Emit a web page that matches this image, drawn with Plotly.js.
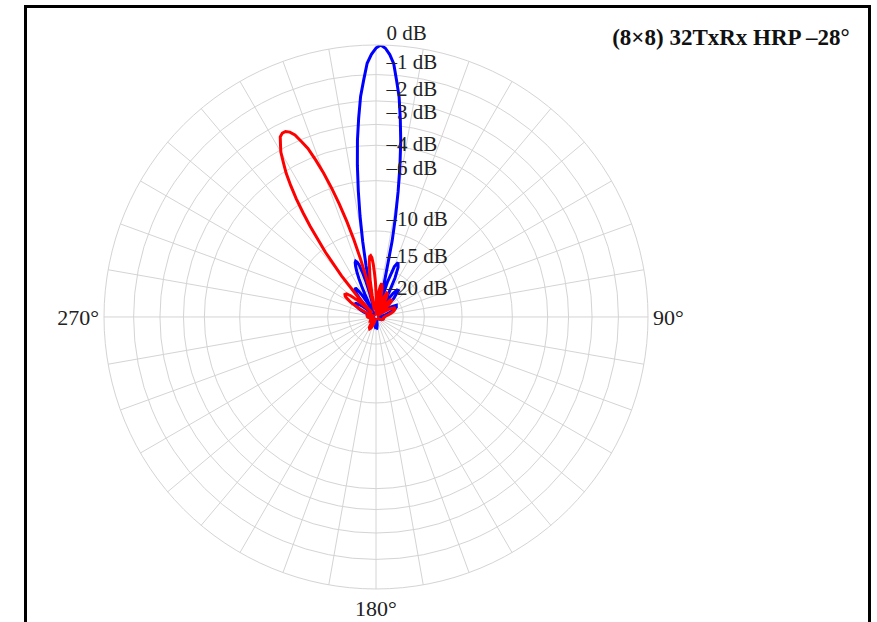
<!DOCTYPE html>
<html>
<head>
<meta charset="utf-8">
<script src="https://cdn.plot.ly/plotly-3.0.1.min.js"></script>
<style>html,body{margin:0;padding:0;background:#fff;}#chart{width:877px;height:622px;}</style>
</head>
<body>
<div id="chart"></div>
<script>
// Angle of each sample (degrees, 0 = up, clockwise)
var thetaDeg = [-180,-176,-172,-168,-164,-160,-156,-152,-148,-144,-140,-136,-132,-128,-124,-120,-116,-112,-108,-104,-100,-96,-92,-88,-84,-80,-76,-72,-68,-64,
  -60,-58,-56,-54,-52,-50,-48,-46,-44,-42,-40,-38,-36,
  -35,-34,-33,-32,-31,-30,-29,-28,-27,-26,-25,-24,-23,-22,-21,-20,-19,-18,-17,-16,-15,-14,-13,-12,-11,-10,-9,-8,-7,-6,-5,-4,-3,-2,-1,
  0,1,2,3,4,5,6,7,8,9,10,11,12,14,16,18,20,22,24,26,28,30,32,34,36,38,40,
  44,48,52,56,60,64,68,72,76,80,84,88,92,96,100,104,108,112,116,120,124,128,132,136,140,144,148,152,156,160,164,168,172,176,180];

// Blue pattern (beam at 0°), dB
var blueDb = [-27.1,-28.6,-33.1,-42,-40,-38,-40,-44,-40,-39,-39,-44,-45,-40,-36,-34.0,-34.1,-36,-39,-44,-45,-43,-40,-39,-42,-45,-44,-31.2,-26.1,-22.9,
  -21.0,-20.8,-21.0,-21.9,-23.9,-27.4,-45,-40,-25.7,-21.4,-19.1,-17.9,-17.8,
  -17.9,-18.8,-19.9,-21.6,-24.5,-29.4,-45,-31.2,-24.4,-20.6,-18.1,-16.2,-14.9,-14.0,-13.4,-13.2,-13.4,-13.9,-15.2,-17.2,-20.7,-29.6,-29.8,-19.3,-14.3,-11.0,-8.5,-6.6,-5.0,-3.7,-2.7,-1.8,-1.2,-0.6,-0.3,
  -0.1,0.0,-0.1,-0.3,-0.6,-1.2,-1.8,-2.7,-3.7,-5.0,-6.6,-8.5,-10.9,-19.0,-30.7,-17.5,-14.1,-13.3,-14.0,-16.0,-20.0,-28.8,-32.6,-22.8,-19.4,-18.0,-17.9,
  -20.6,-29.7,-31.7,-23.5,-21.3,-21.6,-23.1,-25.4,-28.6,-32.2,-38,-40,-40,-43,-38,-34.4,-33.1,-32.4,-32.8,-34.3,-38,-42,-45,-40,-38,-39,-44,-40,-38,-39,-45,-37,-30.3,-27.4,-27.1];

// Red pattern (beam steered to –28°), dB
var redDb = [-45,-42,-43,-45,-36,-30.1,-27.1,-26.1,-26.7,-29.0,-34.2,-45,-38,-33.3,-32.0,-32.7,-36,-42,-45,-42,-36,-32.6,-30.8,-29.9,-29.7,-31.2,-34.8,-45,-31.3,-24.0,
  -19.6,-18.3,-17.3,-17.0,-17.2,-18.3,-20.8,-27.1,-34.5,-19.9,-14.1,-10.4,-7.7,
  -6.6,-5.6,-4.8,-4.1,-3.6,-3.1,-2.8,-2.5,-2.4,-2.4,-2.5,-2.7,-3.1,-3.5,-4.2,-5.0,-6.0,-7.2,-8.7,-10.6,-13.1,-16.3,-21.4,-32,-30.4,-22.0,-17.0,-15.5,-13.8,-13.0,-12.9,-13.2,-14.2,-15.8,-17.8,
  -20.9,-24.6,-31.8,-45,-28.7,-24.2,-21.4,-19.8,-18.8,-18.3,-18.3,-18.8,-19.4,-22.6,-30,-45,-25.6,-21.8,-20.3,-20.4,-22.0,-25.4,-33,-45,-27.4,-23.6,-21.8,
  -21.6,-25.3,-45,-30.4,-24.3,-22.5,-22.5,-23.3,-24.9,-26.8,-28.7,-29.7,-30.6,-31.1,-31.0,-30.8,-31.0,-31.8,-33.6,-37,-42,-45,-40,-41,-45,-42,-45,-40,-43,-45,-42,-41,-45,-42,-45];

// Radial rings (dB) and their labels
var ringDb = [0,-1,-2,-3,-4,-6,-10,-15,-20];
var ringLabels = ['0 dB','–1 dB','–2 dB','–3 dB','–4 dB','–6 dB','–10 dB','–15 dB','–20 dB'];
var ringLabelPos = ['top right','top right','top right','top right','middle right','top right','top right','top right','middle right'];

// Angular grid and labels
var spokeDeg = [0,10,20,30,40,50,60,70,80,90,100,110,120,130,140,150,160,170,180,190,200,210,220,230,240,250,260,270,280,290,300,310,320,330,340,350];
var angleLabelAt = {90:'90°',180:'180°',270:'270°'};
var chartTitle = '(8×8) 32TxRx HRP –28°';

function amp(db){ return Math.pow(10, db/20); }
var ringR = ringDb.map(amp);
var spokeText = spokeDeg.map(function(a){ return angleLabelAt[a] || ''; });

var gridCol = '#d4d4d4';
var serif = 'Liberation Serif, Times New Roman, serif';

var traces = [
  {type:'scatterpolar', mode:'lines', r: blueDb.map(amp), theta: thetaDeg,
   line:{color:'#0000ff', width:3}, hoverinfo:'skip', showlegend:false},
  {type:'scatterpolar', mode:'lines', r: redDb.map(amp), theta: thetaDeg,
   line:{color:'#ff0000', width:3}, hoverinfo:'skip', showlegend:false},
  {type:'scatterpolar', mode:'text', r: ringR, theta: ringR.map(function(){return 0;}),
   text: ringLabels.map(function(t){ return '\u00a0\u00a0' + t; }), textposition: ringLabelPos,
   textfont:{family:serif, size:21, color:'#222'}, hoverinfo:'skip', showlegend:false, cliponaxis:false}
];

var layout = {
  width:877, height:622,
  margin:{l:0, r:0, t:0, b:0},
  paper_bgcolor:'#fff',
  showlegend:false,
  title:{text:'<b>'+chartTitle+'</b>', x:0.969, xanchor:'right', xref:'paper', y:0.94, yanchor:'middle', yref:'paper',
         font:{family:serif, size:23, color:'#111'}},
  polar:{
    domain:{x:[0.1186, 0.7389], y:[0.0531, 0.9277]},
    bgcolor:'#fff',
    radialaxis:{range:[0,1], tickmode:'array', tickvals: ringR, showticklabels:false, ticks:'',
                showline:false, gridcolor:gridCol, gridwidth:1},
    angularaxis:{rotation:90, direction:'clockwise', tickmode:'array', tickvals: spokeDeg, ticktext: spokeText,
                 ticks:'', showline:true, linecolor:gridCol, linewidth:1, gridcolor:gridCol, gridwidth:1,
                 tickfont:{family:serif, size:22, color:'#222'}}
  },
  shapes:[{type:'rect', xref:'paper', yref:'paper', x0:25.5/877, x1:869.5/877, y0:-0.2, y1:1-6.5/622,
           line:{color:'#000', width:3}, fillcolor:'rgba(0,0,0,0)'}]
};

Plotly.newPlot('chart', traces, layout, {staticPlot:true, displayModeBar:false});
</script>
</body>
</html>
